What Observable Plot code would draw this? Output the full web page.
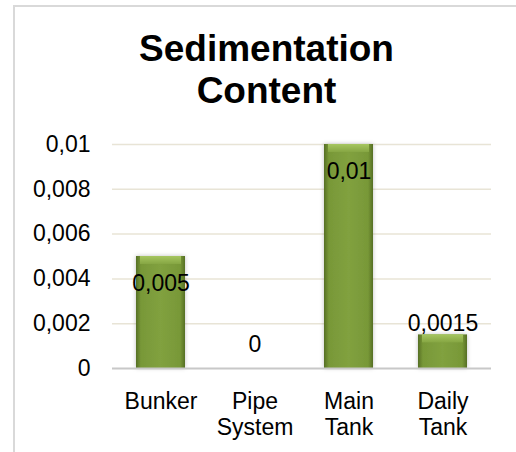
<!DOCTYPE html>
<html><head><meta charset="utf-8">
<script src="https://cdn.jsdelivr.net/npm/d3@7"></script>
<script src="https://cdn.jsdelivr.net/npm/@observablehq/plot@0.6"></script>
<style>
html,body{margin:0;padding:0;background:#fff;width:516px;height:452px;overflow:hidden;font-family:"Liberation Sans",Arial,sans-serif;}
#frame{position:absolute;left:13px;top:5px;right:0;bottom:0;border-top:2px solid #D9D9D9;border-left:2px solid #D9D9D9;pointer-events:none;z-index:5;}
#title{position:absolute;left:0;top:28px;width:533px;text-align:center;font-weight:bold;font-size:37px;line-height:42px;color:#000;margin:0;}
#chart{position:absolute;left:0;top:120px;}
</style></head><body>
<h1 id="title">Sedimentation<br>Content</h1>
<svg width="0" height="0" style="position:absolute">
  <defs>
    <linearGradient id="barGrad" x1="0" y1="0" x2="1" y2="0">
      <stop offset="0" stop-color="#566f24"/>
      <stop offset="0.1" stop-color="#789838"/>
      <stop offset="0.5" stop-color="#81a13f"/>
      <stop offset="0.9" stop-color="#789838"/>
      <stop offset="1" stop-color="#566f24"/>
    </linearGradient>
    <linearGradient id="bevel" x1="0" y1="0" x2="0" y2="1">
      <stop offset="0" stop-color="#a6c660"/>
      <stop offset="1" stop-color="#86a643"/>
    </linearGradient>
    <filter id="sh" x="-30%" y="-10%" width="160%" height="120%">
      <feDropShadow dx="0" dy="0" stdDeviation="2" flood-color="#000" flood-opacity="0.25"/>
    </filter>
  </defs>
</svg>
<div id="chart"></div>
<div id="frame"></div>
<script>
const categories = ["Bunker", "Pipe System", "Main Tank", "Daily Tank"];
const values = [0.005, 0, 0.01, 0.0015];
const yTicks = [0, 0.002, 0.004, 0.006, 0.008, 0.01];
const xLabels = ["Bunker", "Pipe\nSystem", "Main\nTank", "Daily\nTank"];

const data = categories.map((c, i) => ({category: c, value: values[i]}));
const fmt = d => String(d).replace(".", ",");

const plot = Plot.plot({
  width: 516,
  height: 332,
  marginTop: 24,
  marginBottom: 84,
  marginLeft: 112,
  marginRight: 25,
  style: {background: "transparent", fontFamily: "'Liberation Sans', Arial, sans-serif", fontSize: "23px", color: "#000"},
  x: {domain: categories, paddingInner: 0.48, paddingOuter: 0.24},
  y: {domain: [0, 0.01]},
  marks: [
    Plot.ruleY(yTicks.filter(d => d > 0), {stroke: "#E8E4D6", strokeWidth: 1.5}),
    Plot.barY(data, {x: "category", y: "value", fill: "url(#barGrad)"}),
    Plot.barY(data.filter(d => d.value > 0), {x: "category", y1: "value", y2: "value", insetBottom: -8, insetLeft: 4, insetRight: 4, fill: "url(#bevel)"}),
    Plot.ruleY([0], {stroke: "#C8C8C8", strokeWidth: 2}),
    Plot.axisY({ticks: yTicks, tickFormat: fmt, tickSize: 0, tickPadding: 22, label: null, fontSize: 23}),
    Plot.axisX({tickSize: 0, tickPadding: 22, label: null, fontSize: 23, lineHeight: 1.13,
      tickFormat: d => xLabels[categories.indexOf(d)]}),
    Plot.text(data.filter(d => d.value >= 0.004), {x: "category", y: "value", text: d => fmt(d.value), dy: 27, fontSize: 23, fill: "#000"}),
    Plot.text(data.filter(d => d.value > 0 && d.value < 0.004), {x: "category", y: "value", text: d => fmt(d.value), dy: -11.5, fontSize: 23, fill: "#000"}),
    Plot.text(data.filter(d => d.value === 0), {x: "category", y: "value", text: d => fmt(d.value), dy: -23.5, fontSize: 23, fill: "#000"})
  ]
});
document.getElementById("chart").appendChild(plot);
d3.select(plot).select("g[aria-label='bar']").attr("filter", "url(#sh)");
</script>
</body></html>
